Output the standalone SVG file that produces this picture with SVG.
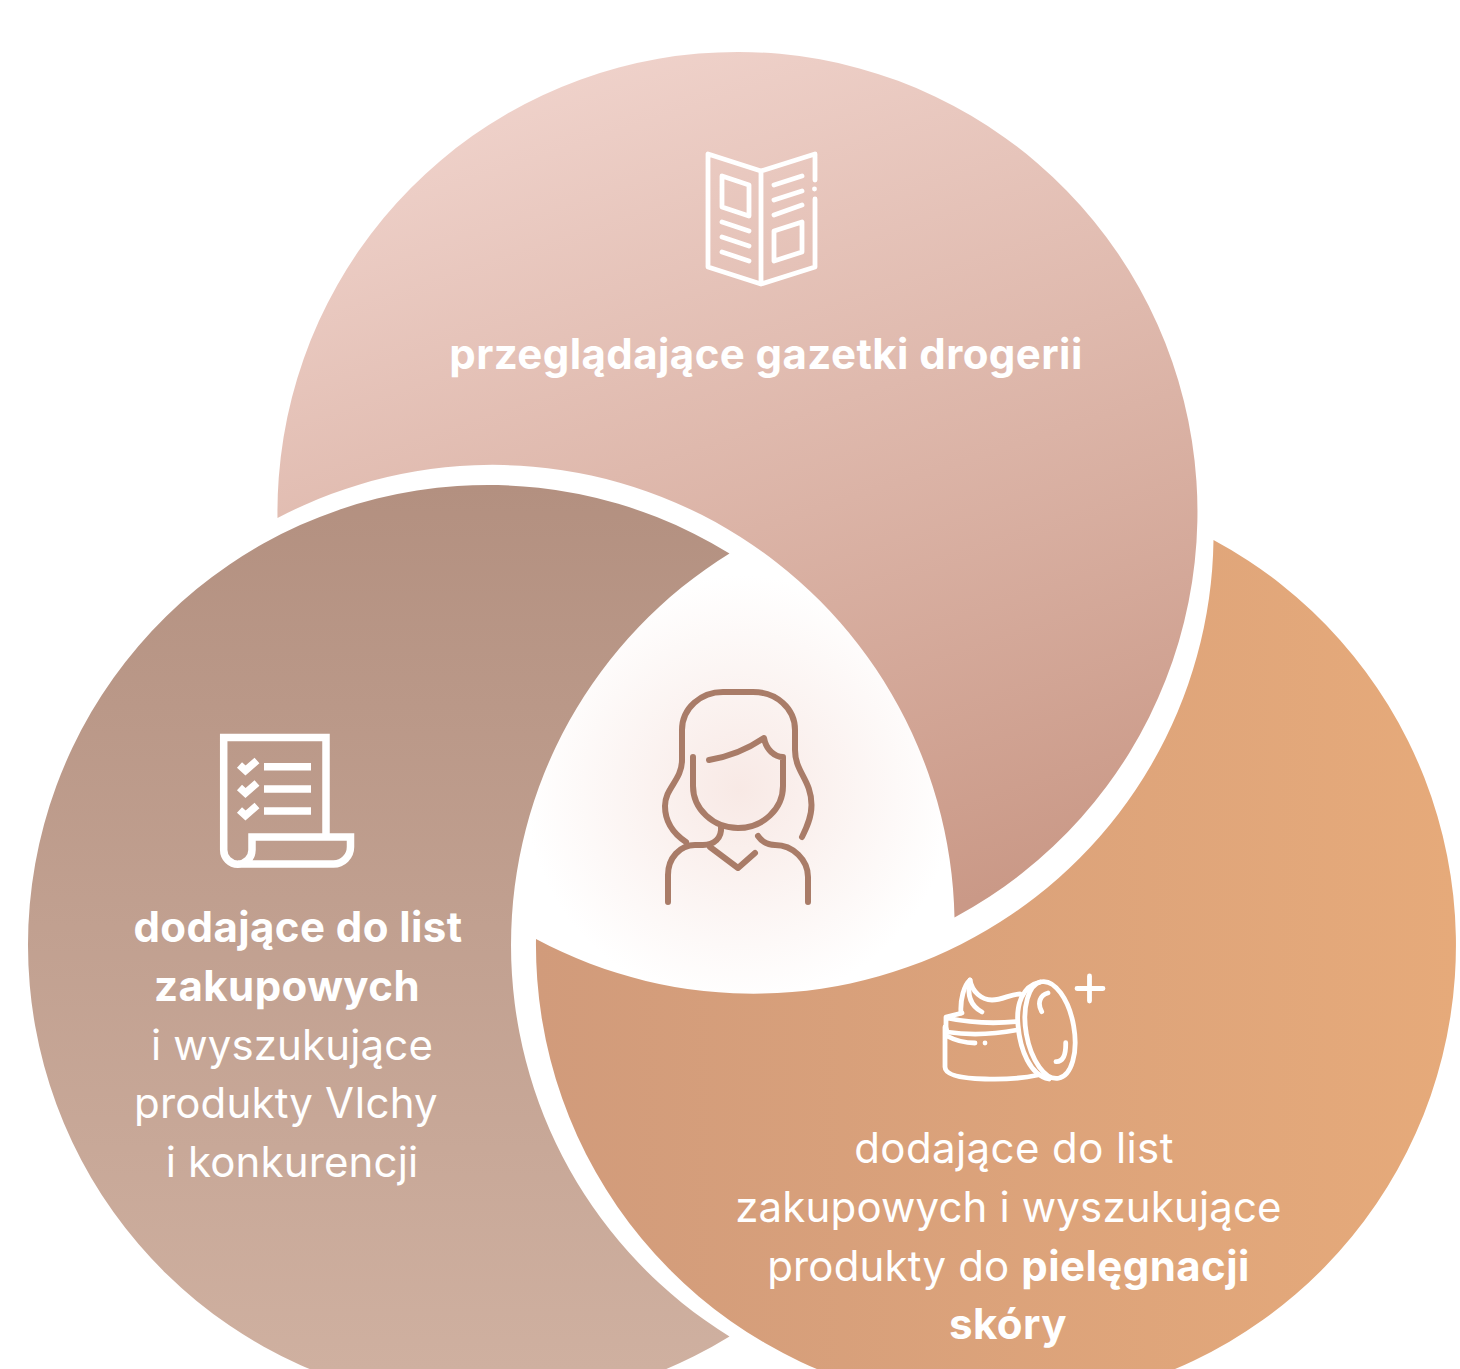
<svg xmlns="http://www.w3.org/2000/svg" width="1460" height="1369" viewBox="0 0 1460 1369">
  <style>
    text { font-family: Inter, "Noto Sans", "Liberation Sans", sans-serif; font-size: 42px; fill: #fff; text-anchor: middle; letter-spacing: 0.15px; }
    .b { font-weight: 700; letter-spacing: 0.42px; }
    .w { letter-spacing: 0.4px; }
    .ic { fill: none; stroke: #fff; stroke-width: 4.8; stroke-linecap: round; stroke-linejoin: round; }
    .pp { fill: none; stroke: #a97c68; stroke-width: 6; stroke-linecap: round; stroke-linejoin: round; }
  </style>
  <defs>
    <linearGradient id="gTop" gradientUnits="userSpaceOnUse" x1="590" y1="40" x2="880" y2="930">
      <stop offset="0" stop-color="#f0d3cc"/><stop offset="1" stop-color="#ca9987"/>
    </linearGradient>
    <linearGradient id="gLeft" gradientUnits="userSpaceOnUse" x1="488" y1="485" x2="488" y2="1369">
      <stop offset="0" stop-color="#b39080"/><stop offset="1" stop-color="#cfb0a0"/>
    </linearGradient>
    <linearGradient id="gRight" gradientUnits="userSpaceOnUse" x1="536" y1="945" x2="1455" y2="945">
      <stop offset="0" stop-color="#d19b7b"/><stop offset="1" stop-color="#e6aa7a"/>
    </linearGradient>
    <radialGradient id="gMid" gradientUnits="userSpaceOnUse" cx="740" cy="790" r="215">
      <stop offset="0" stop-color="#f8e9e5"/><stop offset="1" stop-color="#ffffff"/>
    </radialGradient>
  </defs>
  <rect width="1460" height="1369" fill="#fff"/>
  <g id="center-bg"><circle cx="740" cy="790" r="215" fill="url(#gMid)"/></g>
  <g id="node-top">
    <path d="M277.500 518A460 460 0 1 1 954.500 917.500A462 462 0 0 0 277.500 518Z" fill="url(#gTop)"/>
    <g class="ic">
      <path d="M761 171L708 154V267L761 284L815 267V199M815 180V154L761 171V284"/>
      <path d="M814.500 189h.01"/>
      <path d="M722 176L749 185V216L722 207Z"/>
      <path d="M722 222L749 231M722 237L749 246M722 252L749 261"/>
      <path d="M774 185L802 176M774 200L802 191M774 215L802 205"/>
      <path d="M774 231L802 222V252L774 261Z"/>
    </g>
    <text class="b" x="766" y="369">przeglądające gazetki drogerii</text>
  </g>
  <g id="node-left">
    <path d="M729.500 553.500A460 460 0 1 0 729.500 1336.500A460 460 0 0 1 729.500 553.500Z" fill="url(#gLeft)"/>
    <g class="ic" style="stroke-width:7.500;stroke-linecap:butt;stroke-linejoin:miter">
      <path d="M326 837V737.500H223.700V850A14 14 0 0 0 252 850V837H350.500V847A17 17 0 0 1 333.500 864H238"/>
      <path d="M264 766.700H311M264 789H311M264 811H311"/>
      <path d="M239.500 765L245.500 770.500L257 760.500M239.500 787.500L245.500 793L257 783M239.500 810L245.500 815.500L257 805.500"/>
    </g>
    <text class="b" x="298" y="942">dodające do list</text>
    <text class="b" x="287" y="1001">zakupowych</text>
    <text x="292" y="1060">i wyszukujące</text>
    <text x="286" y="1118">produkty VIchy</text>
    <text x="292" y="1177">i konkurencji</text>
  </g>
  <g id="node-right">
    <path d="M1213.500 540A460 460 0 1 1 536 939A460 460 0 0 0 1213.500 540Z" fill="url(#gRight)"/>
    <g class="ic">
      <path d="M1077 988.500H1103M1089.500 976V1001"/>
      <ellipse cx="1050" cy="1030" rx="24" ry="49" transform="rotate(-10 1050 1030)"/>
      <path d="M1040 982C1022 986 1016 1005 1018 1025C1020 1050 1030 1075 1049 1079"/>
      <path d="M1041.700 1011.700C1037 1003 1040 995 1048 993M1056 1061.700C1063 1062 1066 1055 1065.700 1042.700"/>
      <path d="M961 1013C960 1000 964 985 970 980C972 992 982 1000 992 1000C1003 1000 1010 994 1020 994"/>
      <path d="M970 980Q965 1003 982 1012"/>
      <path d="M962 1013L946 1017V1027L947 1032Q980 1037 1017 1030M947 1018Q980 1025 1016 1021.700"/>
      <path d="M945 1027V1067Q945 1078 985 1079Q1015 1080 1038 1075M947 1036Q960 1043 975 1043M985 1043h.01"/>
    </g>
    <text class="w" x="1014" y="1163">dodające do list</text>
    <text x="1008.500" y="1222">zakupowych i wyszukujące</text>
    <text x="1008.500" y="1281">produkty do <tspan class="b">pielęgnacji</tspan></text>
    <text class="b" x="1008" y="1339">skóry</text>
  </g>
  <g id="node-center">
    <g class="pp">
      <path d="M686 842C671 832 665 820 665 806C665 788 682 780 682 760V730C682 708 701 692 723 692H753C776 692 795 708 795 730V750C795 772 811.500 780 811.500 805C811.500 818 806 829 802 837"/>
      <path d="M693 757V786A45 42 0 0 0 783 786V757C775 757 766 750 764 738C748 749 728 757 709 760"/>
      <path d="M721 827C722 838 714 845 703 845H695C680 845 668 858 668 875V902"/>
      <path d="M710 847L738 868L755 853"/>
      <path d="M758 836C762 842 768 845 775 845C793 845 808 860 808 877V902"/>
    </g>
  </g>
  <g id="connectors"></g>
</svg>
